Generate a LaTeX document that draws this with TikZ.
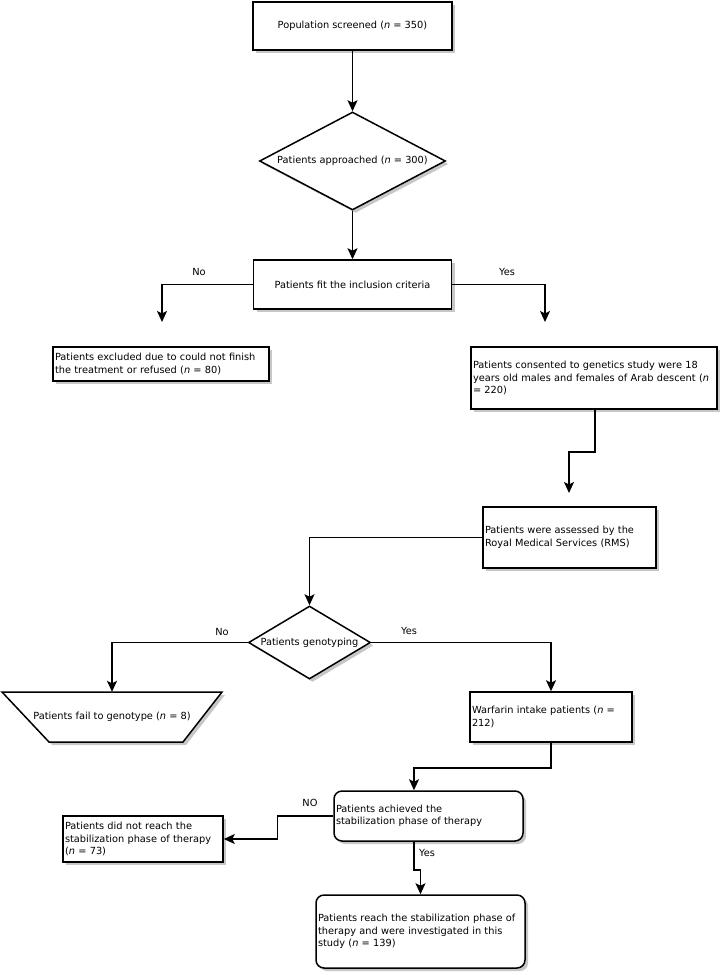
\documentclass[tikz,border=0pt]{standalone}
\usepackage{fontspec}
\setmainfont{DejaVu Sans}
\usetikzlibrary{shapes.geometric,arrows.meta,shadows}
\begin{document}
\begin{tikzpicture}[x=1pt,y=-1pt,
  every node/.style={font=\fontsize{9.8}{12.5}\selectfont},
  shad/.style={drop shadow={shadow xshift=3pt, shadow yshift=-3pt, fill=black!22, opacity=1}},
  box/.style={draw, line width=1.5pt, fill=white, rectangle, inner sep=2pt, shad},
  lbox/.style={box, align=left},
  rbox/.style={lbox, rounded corners=8pt},
  dia/.style={draw, line width=1.5pt, fill=white, diamond, inner sep=0pt, shad},
  arr/.style={line width=1.5pt, -{Stealth[length=11pt,width=10pt,inset=2.5pt]}},
  lab/.style={inner sep=0pt}
]
\useasboundingbox (0,0) rectangle (721,975);

\node[box, minimum width=199pt, minimum height=48pt] (pop) at (352.5,26) {Population screened (\textit{n} = 350)};
\node[dia, minimum width=186pt, minimum height=98pt, aspect=1.9] (appr) at (352.5,161) {Patients approached (\textit{n} = 300)};
\node[box, minimum width=198pt, minimum height=49pt] (incl) at (352.5,284.5) {Patients fit the inclusion criteria};
\node[lbox, text width=212pt, minimum height=34pt] (excl) at (161,364) {Patients excluded due to could not finish\\the treatment or refused (\textit{n} = 80)};
\node[lbox, text width=242pt, minimum height=62pt] (cons) at (594,378) {Patients consented to genetics study were 18\\years old males and females of Arab descent (\textit{n}\\= 220)};
\node[lbox, text width=169pt, minimum height=61pt] (rms) at (569.5,537.5) {Patients were assessed by the\\Royal Medical Services (RMS)};
\node[dia, minimum width=122pt, minimum height=73pt, aspect=1.67] (geno) at (309.5,642.5) {Patients genotyping};
\path[draw, line width=1.5pt, fill=white, shad] (2,692) -- (222,692) -- (183,742) -- (49,742) -- cycle;
\node[inner sep=0pt, minimum width=220pt, minimum height=50pt] (fail) at (112,717) {Patients fail to genotype (\textit{n} = 8)};
\node[lbox, text width=158pt, minimum height=50pt] (warf) at (551,717) {Warfarin intake patients (\textit{n} =\\212)};
\node[rbox, text width=185pt, minimum height=50pt] (ach) at (428.5,816) {Patients achieved the\\stabilization phase of therapy};
\node[lbox, text width=156pt, minimum height=46pt] (dnr) at (143,839) {Patients did not reach the\\stabilization phase of therapy\\(\textit{n} = 73)};
\node[rbox, text width=205pt, minimum height=73pt] (fin) at (420.5,931.5) {Patients reach the stabilization phase of\\therapy and were investigated in this\\study (\textit{n} = 139)};

\coordinate (noend) at (162,322);
\coordinate (yesend) at (545,322);
\coordinate (rmsend) at (569,493);

\draw[arr] (pop) -- (appr);
\draw[arr] (appr) -- (incl);
\draw[arr] (incl.west) -| (noend);
\draw[arr] (incl.east) -| (yesend);
\draw[arr] ([xshift=1pt]cons.south) -- ++(0,42) -| (rmsend);
\draw[arr] (rms.west) -| (geno.north);
\draw[arr] (geno.west) -| (fail.north);
\draw[arr] (geno.east) -| (warf.north);
\draw[arr] (warf.south) -- ++(0,25) -| ([xshift=-14.5pt]ach.north);
\draw[arr] (ach.west) -- ++(-56,0) |- (dnr.east);
\draw[arr] ([xshift=-14.5pt]ach.south) -- ++(0,28) -| (fin.north);

\node[lab] (l1) at (199,272) {No};
\node[lab] (l2) at (507,272) {Yes};
\node[lab] (l3) at (222,632) {No};
\node[lab] (l4) at (409,631) {Yes};
\node[lab] (l5) at (310,803) {NO};
\node[lab] (l6) at (427,853) {Yes};
\end{tikzpicture}
\end{document}
